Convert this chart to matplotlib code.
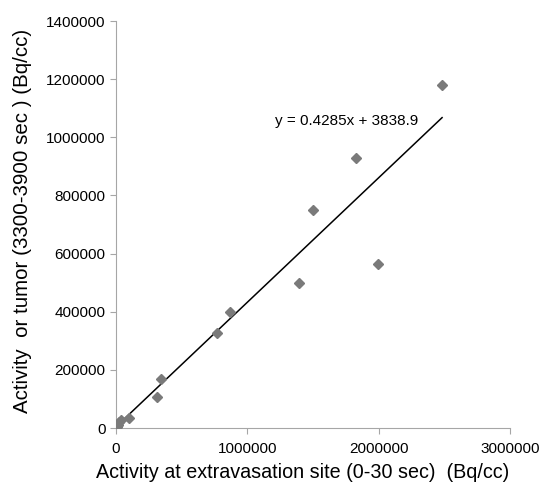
import matplotlib
matplotlib.use('Agg')
import matplotlib.pyplot as plt
import numpy as np

plt.rcParams['font.family'] = ['Liberation Sans', 'DejaVu Sans']

# Activity at extravasation site (0-30 sec) vs. tumor (3300-3900 sec), Bq/cc
site = [5000, 15000, 25000, 40000, 99000, 315000, 344000, 773000, 870000,
        1394000, 1501000, 1824000, 1992000, 2483000]
tumor = [5000, 12000, 20000, 28000, 33000, 107000, 170000, 328000, 400000,
         499000, 749000, 928000, 563000, 1181000]

# trendline as printed on the chart
slope = 0.4285
intercept = 3838.9

fig = plt.figure(figsize=(5.44, 4.9), dpi=100)
ax = fig.add_axes([0.213, 0.1265, 0.7245, 0.8305])

ax.plot(site, tumor, linestyle='none', marker='D', markersize=5,
        color='#7a7a7a', zorder=3)

xl = np.array([min(site), max(site)])
ax.plot(xl, slope * xl + intercept, color='black', linewidth=1.1, zorder=2)

ax.text(1214000, 1057000, 'y = %.4fx + %.1f' % (slope, intercept),
        fontsize=11, va='center', ha='left')

ax.set_xlim(0, 3000000)
ax.set_ylim(0, 1400000)
ax.set_xticks([0, 1000000, 2000000, 3000000])
ax.set_yticks(np.arange(0, 1400001, 200000))
ax.ticklabel_format(style='plain')

for s in ['top', 'right']:
    ax.spines[s].set_visible(False)
for s in ['left', 'bottom']:
    ax.spines[s].set_color('#a6a6a6')
ax.tick_params(colors='#a6a6a6', labelcolor='black', labelsize=11,
               length=4, direction='out')
ax.tick_params(axis='x', pad=6)

ax.set_xlabel('Activity at extravasation site (0-30 sec)  (Bq/cc)', fontsize=14.2,
              labelpad=5)
ax.set_ylabel('Activity  or tumor (3300-3900 sec ) (Bq/cc)', fontsize=14.8,
              labelpad=10)
ax.xaxis.label.set_x(0.475)
ax.yaxis.label.set_y(0.51)

fig.savefig('out.png', dpi=100)
